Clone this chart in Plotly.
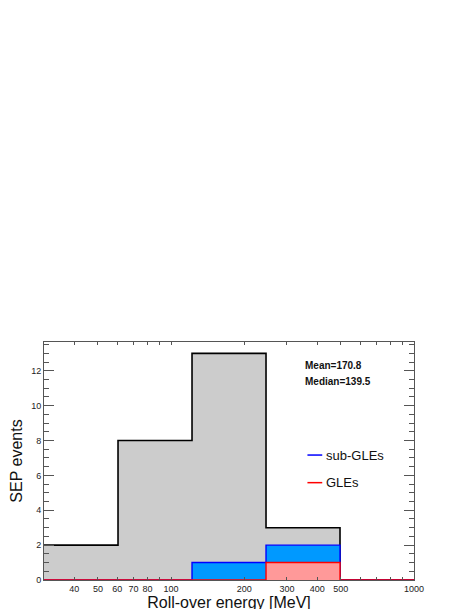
import plotly.graph_objects as go

# log-spaced bin edges of the roll-over energy histogram (MeV)
bin_edges = [30, 60.5, 122, 246, 496, 1000]
all_events = [2, 8, 13, 3, 0]
sub_gles = [0, 0, 1, 2, 0]
gles = [0, 0, 0, 1, 0]

x_tick_vals = [40, 50, 60, 70, 80, 100, 200, 300, 400, 500, 1000]
x_tick_text = ["40", "50", "60", "70", "80", "100", "200", "300", "400", "500", "1000"]
x_minor_vals = [90, 600, 700, 800, 900]
x_decades = [100, 1000]

stats_text = ["Mean=170.8", "Median=139.5"]

FONT = "Liberation Sans, Arial, sans-serif"
FRAME = "#555555"


def step(values):
    # one extra point so the last bin gets its full width with line_shape="hv"
    return bin_edges, list(values) + [values[-1]]


fig = go.Figure()
for vals, fill, line, width in [
    (all_events, "#cccccc", "#000000", 1.6),
    (sub_gles, "#0099ff", "#0000ff", 1.4),
    (gles, "#ff9999", "#ff0000", 1.4),
]:
    xs, ys = step(vals)
    fig.add_trace(go.Scatter(
        x=xs, y=ys, mode="lines", line_shape="hv",
        line=dict(color=line, width=width),
        fill="tozeroy", fillcolor=fill,
        hoverinfo="skip", showlegend=False,
    ))

# the page body adds an 8px offset, so margins are shifted up/left by 8
fig.update_layout(
    width=471, height=609,
    margin=dict(l=36, r=65, t=334, b=37),
    paper_bgcolor="white", plot_bgcolor="white",
    font=dict(family=FONT, color="#222222"),
    showlegend=False,
    xaxis=dict(
        type="log", range=[1.4771, 3.0], automargin=False,
        tickmode="array", tickvals=x_tick_vals, ticktext=x_tick_text,
        ticks="inside", ticklen=3, tickcolor=FRAME, tickwidth=1,
        minor=dict(tickmode="array", tickvals=x_minor_vals, ticks="inside",
                   ticklen=3, tickcolor=FRAME, showgrid=False),
        showline=True, linecolor=FRAME, linewidth=1, mirror="ticks",
        showgrid=False, zeroline=False,
        tickfont=dict(size=9),
        title=dict(text="Roll-over energy [MeV]", font=dict(size=16, color="#111111"),
                   standoff=1),
    ),
    xaxis2=dict(
        type="log", range=[1.4771, 3.0], overlaying="x", anchor="y", side="bottom",
        tickmode="array", tickvals=x_decades, ticks="inside", ticklen=7,
        tickcolor=FRAME, showticklabels=False, mirror="ticks", automargin=False,
        showgrid=False, zeroline=False,
    ),
    yaxis=dict(
        range=[0, 13.65], dtick=2, tick0=0, automargin=False,
        ticks="inside", ticklen=10, tickcolor=FRAME, tickwidth=1,
        minor=dict(dtick=0.5, ticks="inside", ticklen=5, tickcolor=FRAME, showgrid=False),
        showline=True, linecolor=FRAME, linewidth=1, mirror="ticks",
        showgrid=False, zeroline=False,
        tickfont=dict(size=9),
        title=dict(text="SEP events", font=dict(size=16, color="#111111"), standoff=7),
    ),
)

for i, txt in enumerate(stats_text):
    fig.add_annotation(
        xref="paper", yref="paper", x=0.700, y=0.900 - 0.066 * i,
        xanchor="left", yanchor="middle", showarrow=False,
        text=f"<b>{txt}</b>", font=dict(size=10, color="#111111"),
    )

# hand-drawn legend with short line samples, as in the original
for i, (name, color) in enumerate([("sub-GLEs", "#0000ff"), ("GLEs", "#ff0000")]):
    ly = 0.525 - 0.116 * i
    fig.add_shape(type="line", xref="paper", yref="paper",
                  x0=0.712, x1=0.752, y0=ly, y1=ly,
                  line=dict(color=color, width=1.5))
    fig.add_annotation(
        xref="paper", yref="paper", x=0.758, y=ly,
        xanchor="left", yanchor="middle", showarrow=False,
        text=name, font=dict(size=13, color="#111111"),
    )

fig.write_html("out.html")
